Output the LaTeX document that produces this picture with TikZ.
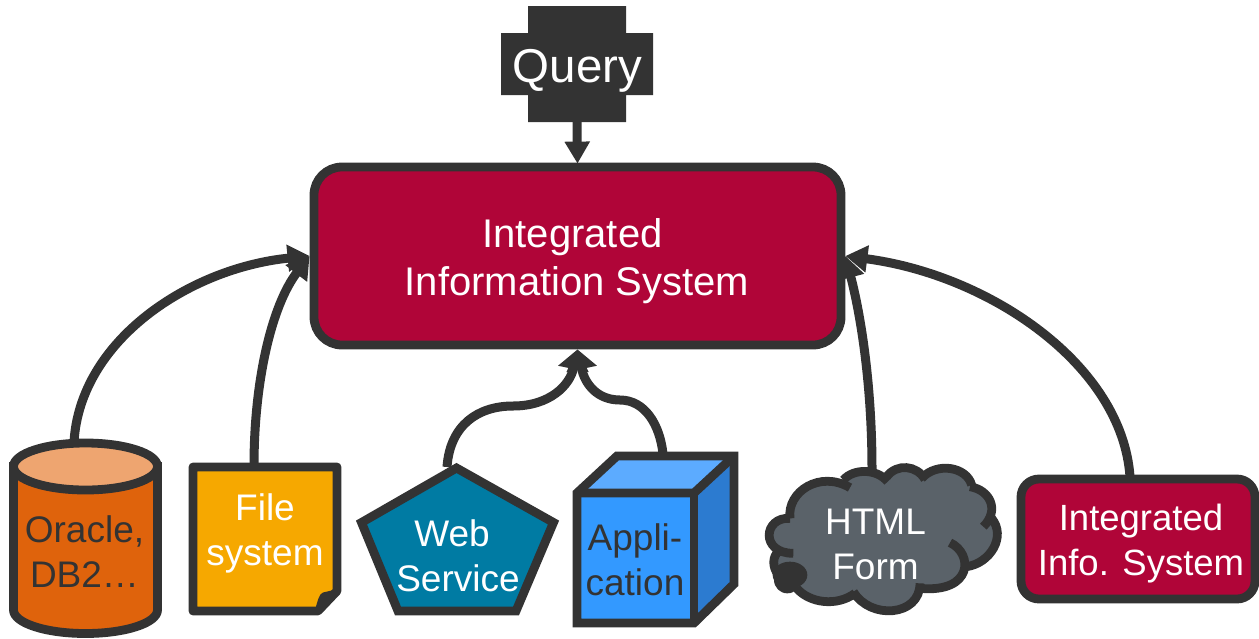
\documentclass[tikz,border=0pt]{standalone}
\usepackage{fontspec}
\setmainfont{Liberation Sans}
\usetikzlibrary{arrows.meta,calc}
\definecolor{ink}{HTML}{333333}
\definecolor{crimson}{HTML}{B00538}
\definecolor{orangeA}{HTML}{DF630C}
\definecolor{orangeB}{HTML}{EEA570}
\definecolor{amber}{HTML}{F6A800}
\definecolor{teal}{HTML}{007BA3}
\definecolor{blueA}{HTML}{3399FF}
\definecolor{blueB}{HTML}{5CABFF}
\definecolor{blueC}{HTML}{2C7BD0}
\definecolor{slate}{HTML}{5A6269}
\tikzset{
  bbox/.style={inner sep=0,outer sep=0,minimum width=#1},
  lab/.style={inner sep=0,outer sep=0,align=center,text=white,font=\fontsize{37}{45}\selectfont},
  darklab/.style={lab,text=ink},
  shapeline/.style={draw=ink,line width=8.8pt,line join=miter},
  conn/.style={draw=ink,line width=9pt,-{Triangle[length=22pt,width=26pt]}},
  panel/.style={shapeline,rectangle,inner sep=0,outer sep=4.4pt}
}
\newcommand{\cloudlobes}[1]{
  (150,295) .. controls (140,215) and (240,150) .. (330,203) #1
  (310,180) .. controls (340,145) and (410,145) .. (443,185) #1
  (440,170) .. controls (470,130) and (530,135) .. (555,178) #1
  (545,175) .. controls (590,125) and (680,140) .. (695,195) #1
  (690,200) .. controls (750,210) and (780,270) .. (730,320) #1
  (755,295) .. controls (800,350) and (750,430) .. (680,440) #1
  (630,368) .. controls (700,400) and (700,520) .. (540,505) #1
  (540,490) .. controls (540,590) and (390,600) .. (340,515) #1
  (345,520) .. controls (290,560) and (210,550) .. (170,505) #1
  (120,470) .. controls (100,450) and (95,420) .. (110,400) #1
  (160,400) .. controls (60,400) and (70,290) .. (150,295)
}
\begin{document}
\begin{tikzpicture}[x=1pt,y=-1pt]
\useasboundingbox (0,0) rectangle (1259,638);
% layout boxes used by the connectors
\node[bbox=152,minimum height=116] (query) at (577,64) {};
\node[bbox=152,minimum height=199] (oracle) at (85.5,538.5) {};
\node[bbox=152,minimum height=152] (file) at (265,539) {};
\node[bbox=201,minimum height=152] (web) at (457.5,539) {};
\node[bbox=165,minimum height=175] (app) at (655.5,539.5) {};
\node[bbox=237,minimum height=152] (form) at (883.5,539) {};
\node[panel,fill=crimson,minimum width=527,minimum height=178,rounded corners=28] (main) at (577.5,256) {};
% connectors
\draw[conn,-{Triangle[length=22pt,width=24pt]}] (query.south) -- ($(main.north)+(0,1)$);
\draw[conn] ($(oracle.north)+(-11.5,3)$) .. controls (80,340) and (190,268) .. (main.west);
\draw[conn] ($(file.north)+(-11,3)$) .. controls (254,380) and (272,305) .. (main.west);
\draw[conn,-{Triangle[length=20pt,width=30pt]}] ($(web.north)+(-10.5,4)$) .. controls (450,425) and (478,406) .. (513,406) .. controls (550,406) and (570,385) .. (main.south);
\draw[conn,-{Triangle[length=20pt,width=30pt]}] ($(app.north)+(7.5,2)$) .. controls (660,425) and (645,400) .. (620,400) .. controls (598,400) and (585,385) .. (main.south);
\draw[conn] ($(form.north)+(-11.5,6)$) .. controls (872,390) and (862,320) .. (main.east);
% shapes
\node[panel,fill=crimson,minimum width=234,minimum height=120,rounded corners=18] (iis) at (1138,539) {};
\draw[conn] ($(iis.north)+(-8,2)$) .. controls (1122,365) and (990,275) .. (main.east);
\fill[ink] (528,6) -- (626,6) -- (626,33) -- (653,33) -- (653,95) -- (626,95) -- (626,122) -- (528,122) -- (528,95) -- (501,95) -- (501,33) -- (528,33) -- cycle;
% cylinder
\draw[shapeline,fill=orangeA] (13.5,466.5) -- (13.5,610) .. controls (13.5,623) and (45.7,633.5) .. (85.5,633.5) .. controls (125.3,633.5) and (157.5,623) .. (157.5,610) -- (157.5,466.5) -- cycle;
\draw[shapeline,fill=orangeB] (85.5,466.5) ellipse [x radius=72,y radius=23.5];
% file
\draw[shapeline,fill=amber,line join=round] (193,467) -- (337,467) -- (337,591) -- (318,611) -- (193,611) -- cycle;
\fill[ink] (338,589) -- (323,592.5) .. controls (319,594) and (318,600) .. (315,610) -- (318,612) -- cycle;
% pentagon
\draw[shapeline,fill=teal] (456.5,468) -- (553.5,522.5) -- (516,611) -- (398,611) -- (361.5,522.5) -- cycle;
% cube
\fill[blueB] (577,493) -- (617,456) -- (734,456) -- (694,493) -- cycle;
\fill[blueC] (694,493) -- (734,456) -- (734,584) -- (694,623) -- cycle;
\fill[blueA] (577,493) -- (694,493) -- (694,623) -- (577,623) -- cycle;
\draw[shapeline] (577,623) -- (577,493) -- (617,456) -- (734,456) -- (734,584) -- (694,623) -- cycle;
\draw[shapeline] (577,493) -- (694,493) -- (734,456);
\draw[shapeline] (694,493) -- (694,623);
% cloud
\begin{scope}[shift={(740,420)},x=0.33333pt,y=-0.33333pt]
  \fill[slate] \cloudlobes{--} -- cycle;
  \draw[draw=ink,line width=8.8pt] \cloudlobes{};
  \fill[ink] (150,465) ellipse [x radius=52,y radius=40];
  \fill[ink] (142,480) circle [radius=40];
\end{scope}
% labels
\node[lab] (querytext) at (577.5,70.8) {\fontsize{47.5}{56}\selectfont\strut Query};
\node[lab,font=\fontsize{40}{48}\selectfont] (maintext) at (577,261.4) {\strut Integrated\kern9pt\\\strut Information System};
\node[darklab] (oracletext) at (84.5,555.5) {\strut Oracle,\\\strut DB2…};
\node[lab] (filetext) at (265,533.5) {\strut File\\\strut system};
\node[lab] (webtext) at (458,559.5) {\strut Web\kern12pt\\\strut Service};
\node[darklab] (apptext) at (635,563.5) {\strut Appli-\\\strut cation};
\node[lab] (formtext) at (875.5,547.5) {\strut HTML\\\strut Form};
\node[lab,font=\fontsize{36.5}{45}\selectfont] (iistext) at (1141,543.5) {\strut Integrated\\\strut Info. System};
\end{tikzpicture}
\end{document}
